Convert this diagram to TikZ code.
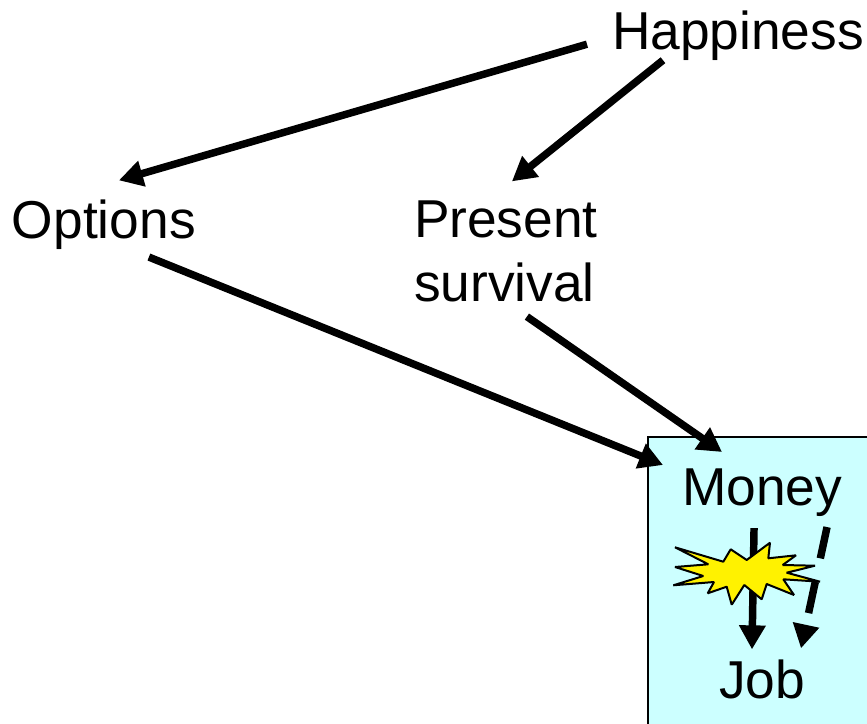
\documentclass[tikz,border=0pt]{standalone}
\usepackage{fontspec}
\setmainfont{Liberation Sans}
\usetikzlibrary{arrows.meta}
\tikzset{
  lbl/.style={inner sep=0pt,outer sep=0pt,anchor=base west,font=\fontsize{40}{48}\selectfont,text=black},
  conn/.style={line width=5.6pt,draw=black,-{Triangle[length=18pt,width=19pt]}},
  conndash/.style={conn,dash pattern=on 24pt off 18pt},
}
\definecolor{boxcyan}{HTML}{CCFFFF}
\begin{document}
\begin{tikzpicture}[x=0.75pt,y=-0.75pt]
\clip (0,0) rectangle (867,724);
\fill[white] (0,0) rectangle (867,724);
\node[draw=black,line width=1.5pt,fill=boxcyan,inner sep=0pt,outer sep=0pt,anchor=north west,minimum width=225pt,minimum height=240pt] (box) at (648,437) {};
\node[lbl] (happy) at (612,50) {Happiness};
\node[lbl] (opts) at (12,238) {Options};
\node[lbl,align=left,anchor=west] (pres) at (414,251) {Present\\survival};
\node[lbl] (money) at (682,505) {Money};
\node[lbl] (job) at (719,698) {Job};
\draw[conn] ([shift={(-25,8)}]happy.west) -- ([shift={(15,-19)}]opts.north);
\draw[conn] ([shift={(51,24)}]happy.west) -- ([shift={(6,-19)}]pres.north);
\draw[conn] ([shift={(45,8)}]opts.south) -- ([shift={(15,28)}]box.north west);
\draw[conn] ([shift={(21,15)}]pres.south) -- ([shift={(74,15)}]box.north west);
\draw[conn] ([shift={(-8,12)}]money.south) -- ([shift={(-10,-10)}]job.north);
\draw[conndash] ([shift={(65,11)}]money.south) -- ([shift={(39,-11)}]job.north);
\path[draw=black,line width=1.5pt,fill=yellow,line join=bevel]
 (675,547.3)--(723.3,561.7)--(730.7,549.3)--(746.7,560)--(770,542.7)--(768.3,558.3)--(796,555.3)--(782.7,565)--(815,565.7)--(786.7,572.7)--(820,581.7)--(783.3,579.3)--(794,595)--(766.7,584)--(761.7,599.3)--(744.3,585)--(731.7,604.7)--(726.7,586.7)--(707.7,593.3)--(714,582)--(673.3,585.3)--(703.3,576)--(675,567)--(708.3,564.3)--cycle;
\end{tikzpicture}
\end{document}
